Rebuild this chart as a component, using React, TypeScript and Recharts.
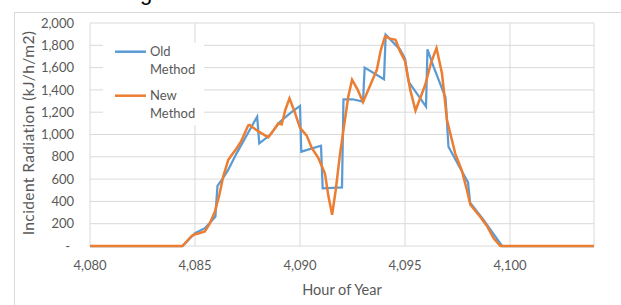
import React from 'react';
import { LineChart, Line, XAxis, YAxis, CartesianGrid } from 'recharts';

const oldHours = [4080, 4084.4, 4085.0, 4085.47, 4085.97, 4086.07, 4086.3, 4086.58, 4086.98, 4087.96, 4088.06, 4088.57, 4089.05, 4089.52, 4090.0, 4090.06, 4091.0, 4091.08, 4092.0, 4092.07, 4092.5, 4093.0, 4093.08, 4094.0, 4094.08, 4094.77, 4095.0, 4095.17, 4096.0, 4096.07, 4096.36, 4096.93, 4097.07, 4097.63, 4098.0, 4098.1, 4098.74, 4099.62, 4104];
const oldValues = [0, 0, 114, 160, 263, 540, 600, 682, 831, 1160, 921, 995, 1115, 1190, 1256, 846, 900, 517, 525, 1316, 1316, 1294, 1600, 1495, 1895, 1760, 1680, 1474, 1250, 1764, 1608, 1330, 890, 697, 570, 389, 233, 0, 0];

const newHours = [4080, 4084.4, 4084.84, 4085.0, 4085.2, 4085.47, 4085.7, 4085.95, 4086.15, 4086.34, 4086.58, 4086.8, 4086.98, 4087.2, 4087.53, 4087.6, 4088.0, 4088.49, 4088.75, 4088.97, 4089.13, 4089.3, 4089.5, 4089.75, 4090.0, 4090.32, 4090.56, 4090.87, 4091.19, 4091.35, 4091.53, 4091.7, 4091.91, 4092.1, 4092.3, 4092.48, 4092.75, 4093.0, 4093.34, 4093.66, 4093.85, 4094.05, 4094.3, 4094.55, 4094.77, 4095.0, 4095.25, 4095.5, 4095.96, 4096.25, 4096.5, 4096.76, 4097.0, 4097.39, 4097.7, 4097.95, 4098.11, 4098.58, 4098.9, 4099.22, 4099.54, 4104];
const newValues = [0, 0, 90, 105, 115, 130, 200, 310, 450, 620, 770, 830, 875, 940, 1080, 1085, 1030, 975, 1040, 1100, 1090, 1220, 1325, 1200, 1060, 990, 880, 790, 650, 450, 280, 500, 830, 1080, 1340, 1492, 1400, 1290, 1440, 1580, 1760, 1880, 1860, 1850, 1743, 1660, 1400, 1215, 1444, 1650, 1775, 1549, 1130, 831, 680, 500, 370, 263, 180, 69, 0, 0];

const xTicks = [4080, 4085, 4090, 4095, 4100];
const yTicks = [0, 200, 400, 600, 800, 1000, 1200, 1400, 1600, 1800, 2000];
const seriesNames = ['Old Method', 'New Method'];
const seriesColors = ['#5B9BD5', '#ED7D31'];
const xTitle = 'Hour of Year';
const yTitle = 'Incident Radiation (kJ/h/m2)';

const oldData = oldHours.map((x, i) => ({ x, v: oldValues[i] }));
const newData = newHours.map((x, i) => ({ x, v: newValues[i] }));

const TEXT = '#595959';
const FONT = 'Lato';

const fmt = (n: number) => (n === 0 ? '-' : n.toLocaleString('en-US'));

const YTick = (props: any) => {
  const { x, y, payload } = props;
  const zero = payload.value === 0;
  return (
    <text x={zero ? x - 4 : x} y={y} dy="0.355em" textAnchor="end" fill={TEXT} fontSize={13} fontFamily={FONT}>
      {fmt(payload.value)}
    </text>
  );
};

const LegendBox = () => (
  <div style={{ position: 'absolute', left: 103, top: 43, width: 101, height: 82, background: '#fff' }}>
    <svg width={101} height={82}>
      {seriesNames.map((name, i) => {
        const cy = 8.7 + i * 44;
        const words = name.split(' ');
        return (
          <g key={i}>
            <line x1={12} x2={43} y1={cy} y2={cy} stroke={seriesColors[i]} strokeWidth={2.5} />
            {words.map((w, j) => (
              <text key={j} x={47} y={cy + j * 17.5} dy="0.355em" fill={TEXT} fontSize={13} fontFamily={FONT}>
                {w}
              </text>
            ))}
          </g>
        );
      })}
    </svg>
  </div>
);

export default function App() {
  return (
    <div style={{ position: 'fixed', left: 0, top: 0, width: 621, height: 305, background: '#fff', overflow: 'hidden' }}>
      <div style={{ position: 'absolute', left: 14, top: 12, width: 700, height: 400, borderTop: '1px solid #d9d9d9', borderLeft: '1px solid #d9d9d9' }} />
      <svg style={{ position: 'absolute', left: 0, top: 0 }} width={621} height={20}>
        <text x={140} y={0} fontSize={22} fontFamily="Liberation Sans" fill="#000">g</text>
      </svg>
      <div style={{ position: 'absolute', left: 0, top: 0 }}>
        <LineChart width={621} height={305} margin={{ top: 23, right: 27, bottom: 9, left: 0 }}>
          <CartesianGrid stroke="#d9d9d9" strokeWidth={1} />
          <XAxis
            type="number"
            dataKey="x"
            domain={[4080, 4104]}
            ticks={xTicks}
            interval={0}
            allowDataOverflow
            tickFormatter={fmt}
            axisLine={false}
            tickLine={false}
            tickMargin={9}
            height={50}
            tick={{ fill: TEXT, fontSize: 13, fontFamily: FONT }}
          />
          <YAxis
            type="number"
            domain={[0, 2000]}
            ticks={yTicks}
            interval={0}
            width={90}
            axisLine={false}
            tickLine={false}
            tickMargin={10}
            tick={<YTick />}
          />
          <Line data={oldData} dataKey="v" name={seriesNames[0]} type="linear" stroke={seriesColors[0]} strokeWidth={2.25} dot={false} activeDot={false} isAnimationActive={false} />
          <Line data={newData} dataKey="v" name={seriesNames[1]} type="linear" stroke={seriesColors[1]} strokeWidth={2.5} dot={false} activeDot={false} isAnimationActive={false} />
        </LineChart>
      </div>
      <LegendBox />
      <svg style={{ position: 'absolute', left: 0, top: 0, pointerEvents: 'none' }} width={621} height={305}>
        <text x={342} y={290} dy="0.355em" textAnchor="middle" fill={TEXT} fontSize={14.5} fontFamily={FONT}>{xTitle}</text>
        <text x={28} y={133} dy="0.355em" textAnchor="middle" fill={TEXT} fontSize={15.5} fontFamily={FONT} letterSpacing={0.4} transform="rotate(-90 28 133)">{yTitle}</text>
      </svg>
    </div>
  );
}
